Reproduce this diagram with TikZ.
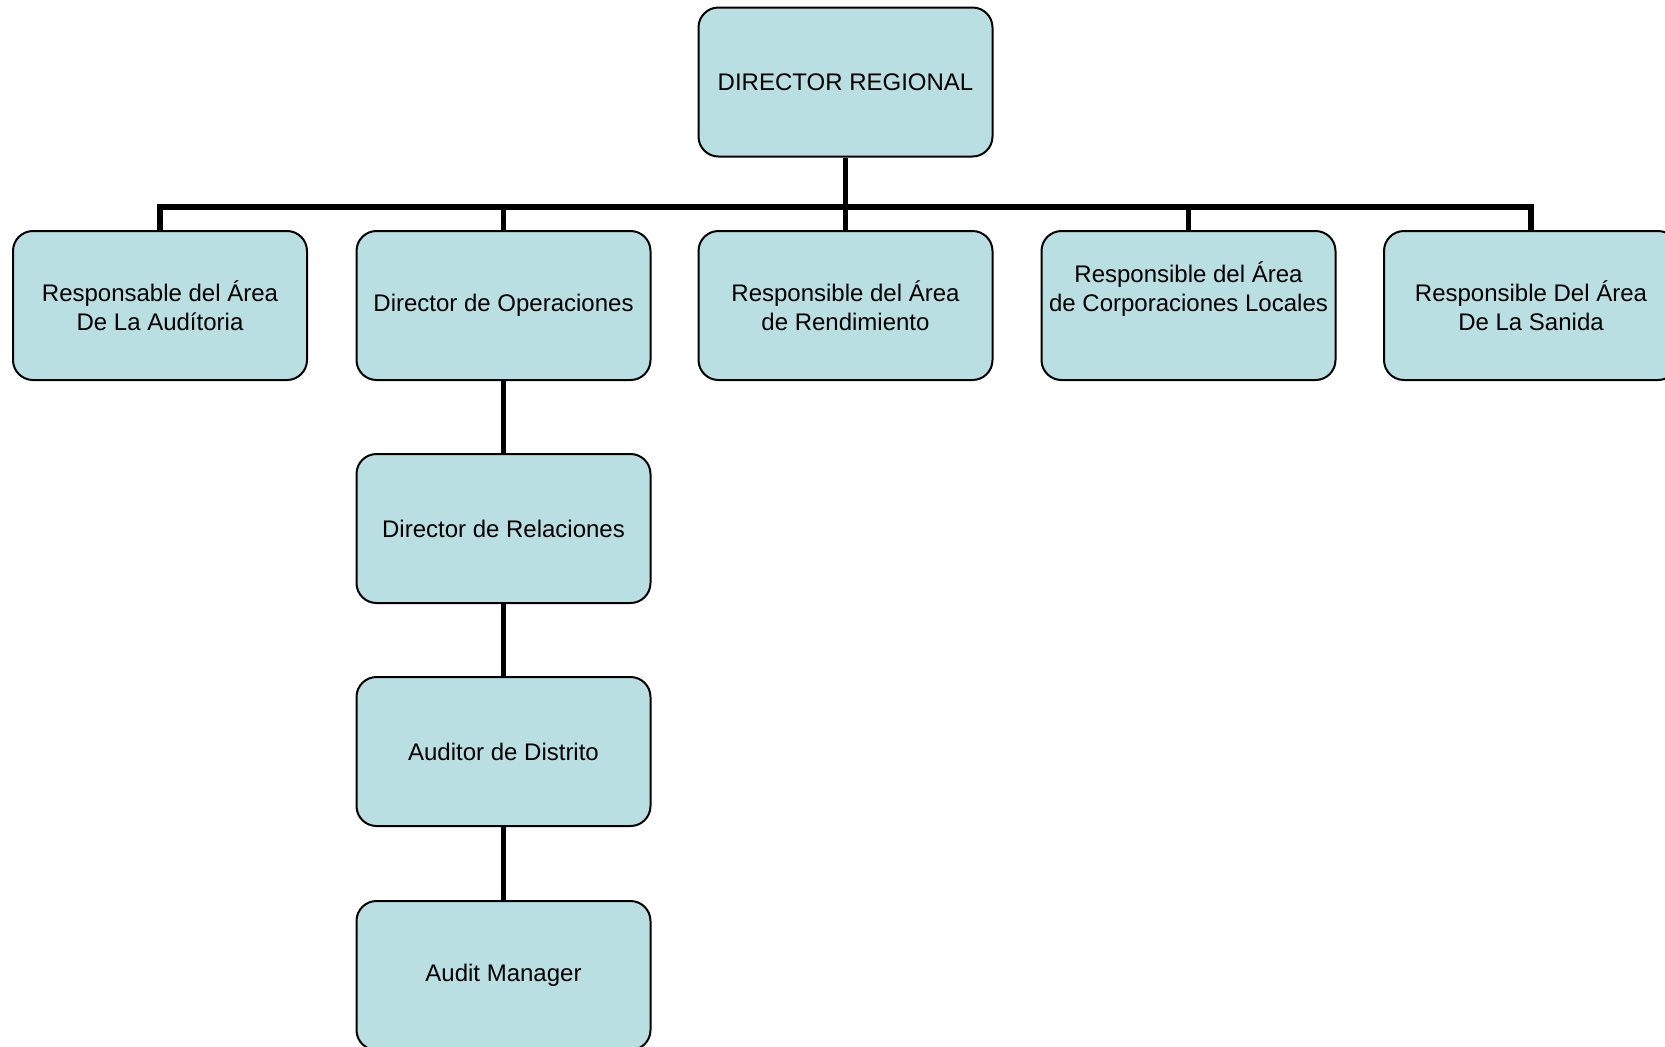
\documentclass[tikz,border=0pt]{standalone}
\usepackage{fontspec}
\setmainfont{Liberation Sans}
\usetikzlibrary{positioning,calc}
\definecolor{boxfill}{RGB}{185,223,227}

\begin{document}
\begin{tikzpicture}[x=0.5pt,y=-0.5pt,
      every node/.style={font=\fontsize{12}{14.6}\selectfont},
      post/.style={draw=black,line width=1pt,fill=boxfill,rounded corners=10pt,
                   minimum width=147pt,minimum height=74.5pt,align=center,inner sep=2pt},
      link/.style={draw=black,line width=2.6pt}
     ]
    \useasboundingbox (0,0) rectangle (1665,1046);
    \node[post] (dir) at (845.5,82)    {DIRECTOR REGIONAL};
    \node[post] (aud) at (160,305.5)   {Responsable del Área\\De La Audítoria};
    \node[post] (ope) at (503.5,305.5) {Director de Operaciones};
    \node[post] (ren) at (845.5,305.5) {Responsible del Área\\de Rendimiento};
    \node[post] (cor) at (1188.5,305.5) {Responsible del Área\\de Corporaciones Locales\\ \strut};
    \node[post] (san) at (1531,305.5)  {Responsible Del Área\\De La Sanida};
    \node[post] (rel) at (503.5,528.5) {Director de Relaciones};
    \node[post] (dis) at (503.5,751.5) {Auditor de Distrito};
    \node[post] (man) at (503.5,975.5) {Audit Manager};
    \coordinate (bus) at (0,207);
    \draw[link] (dir.south) -- (dir.south |- bus);
    \draw[link] (aud.north) -- (aud.north |- bus) -- (san.north |- bus) -- (san.north);
    \foreach \n in {ope,ren,cor}
      \draw[link] (\n.north) -- (\n.north |- bus);
    \draw[link] (ope) -- (rel);
    \draw[link] (rel) -- (dis);
    \draw[link] (dis) -- (man);
\end{tikzpicture}
\end{document}
